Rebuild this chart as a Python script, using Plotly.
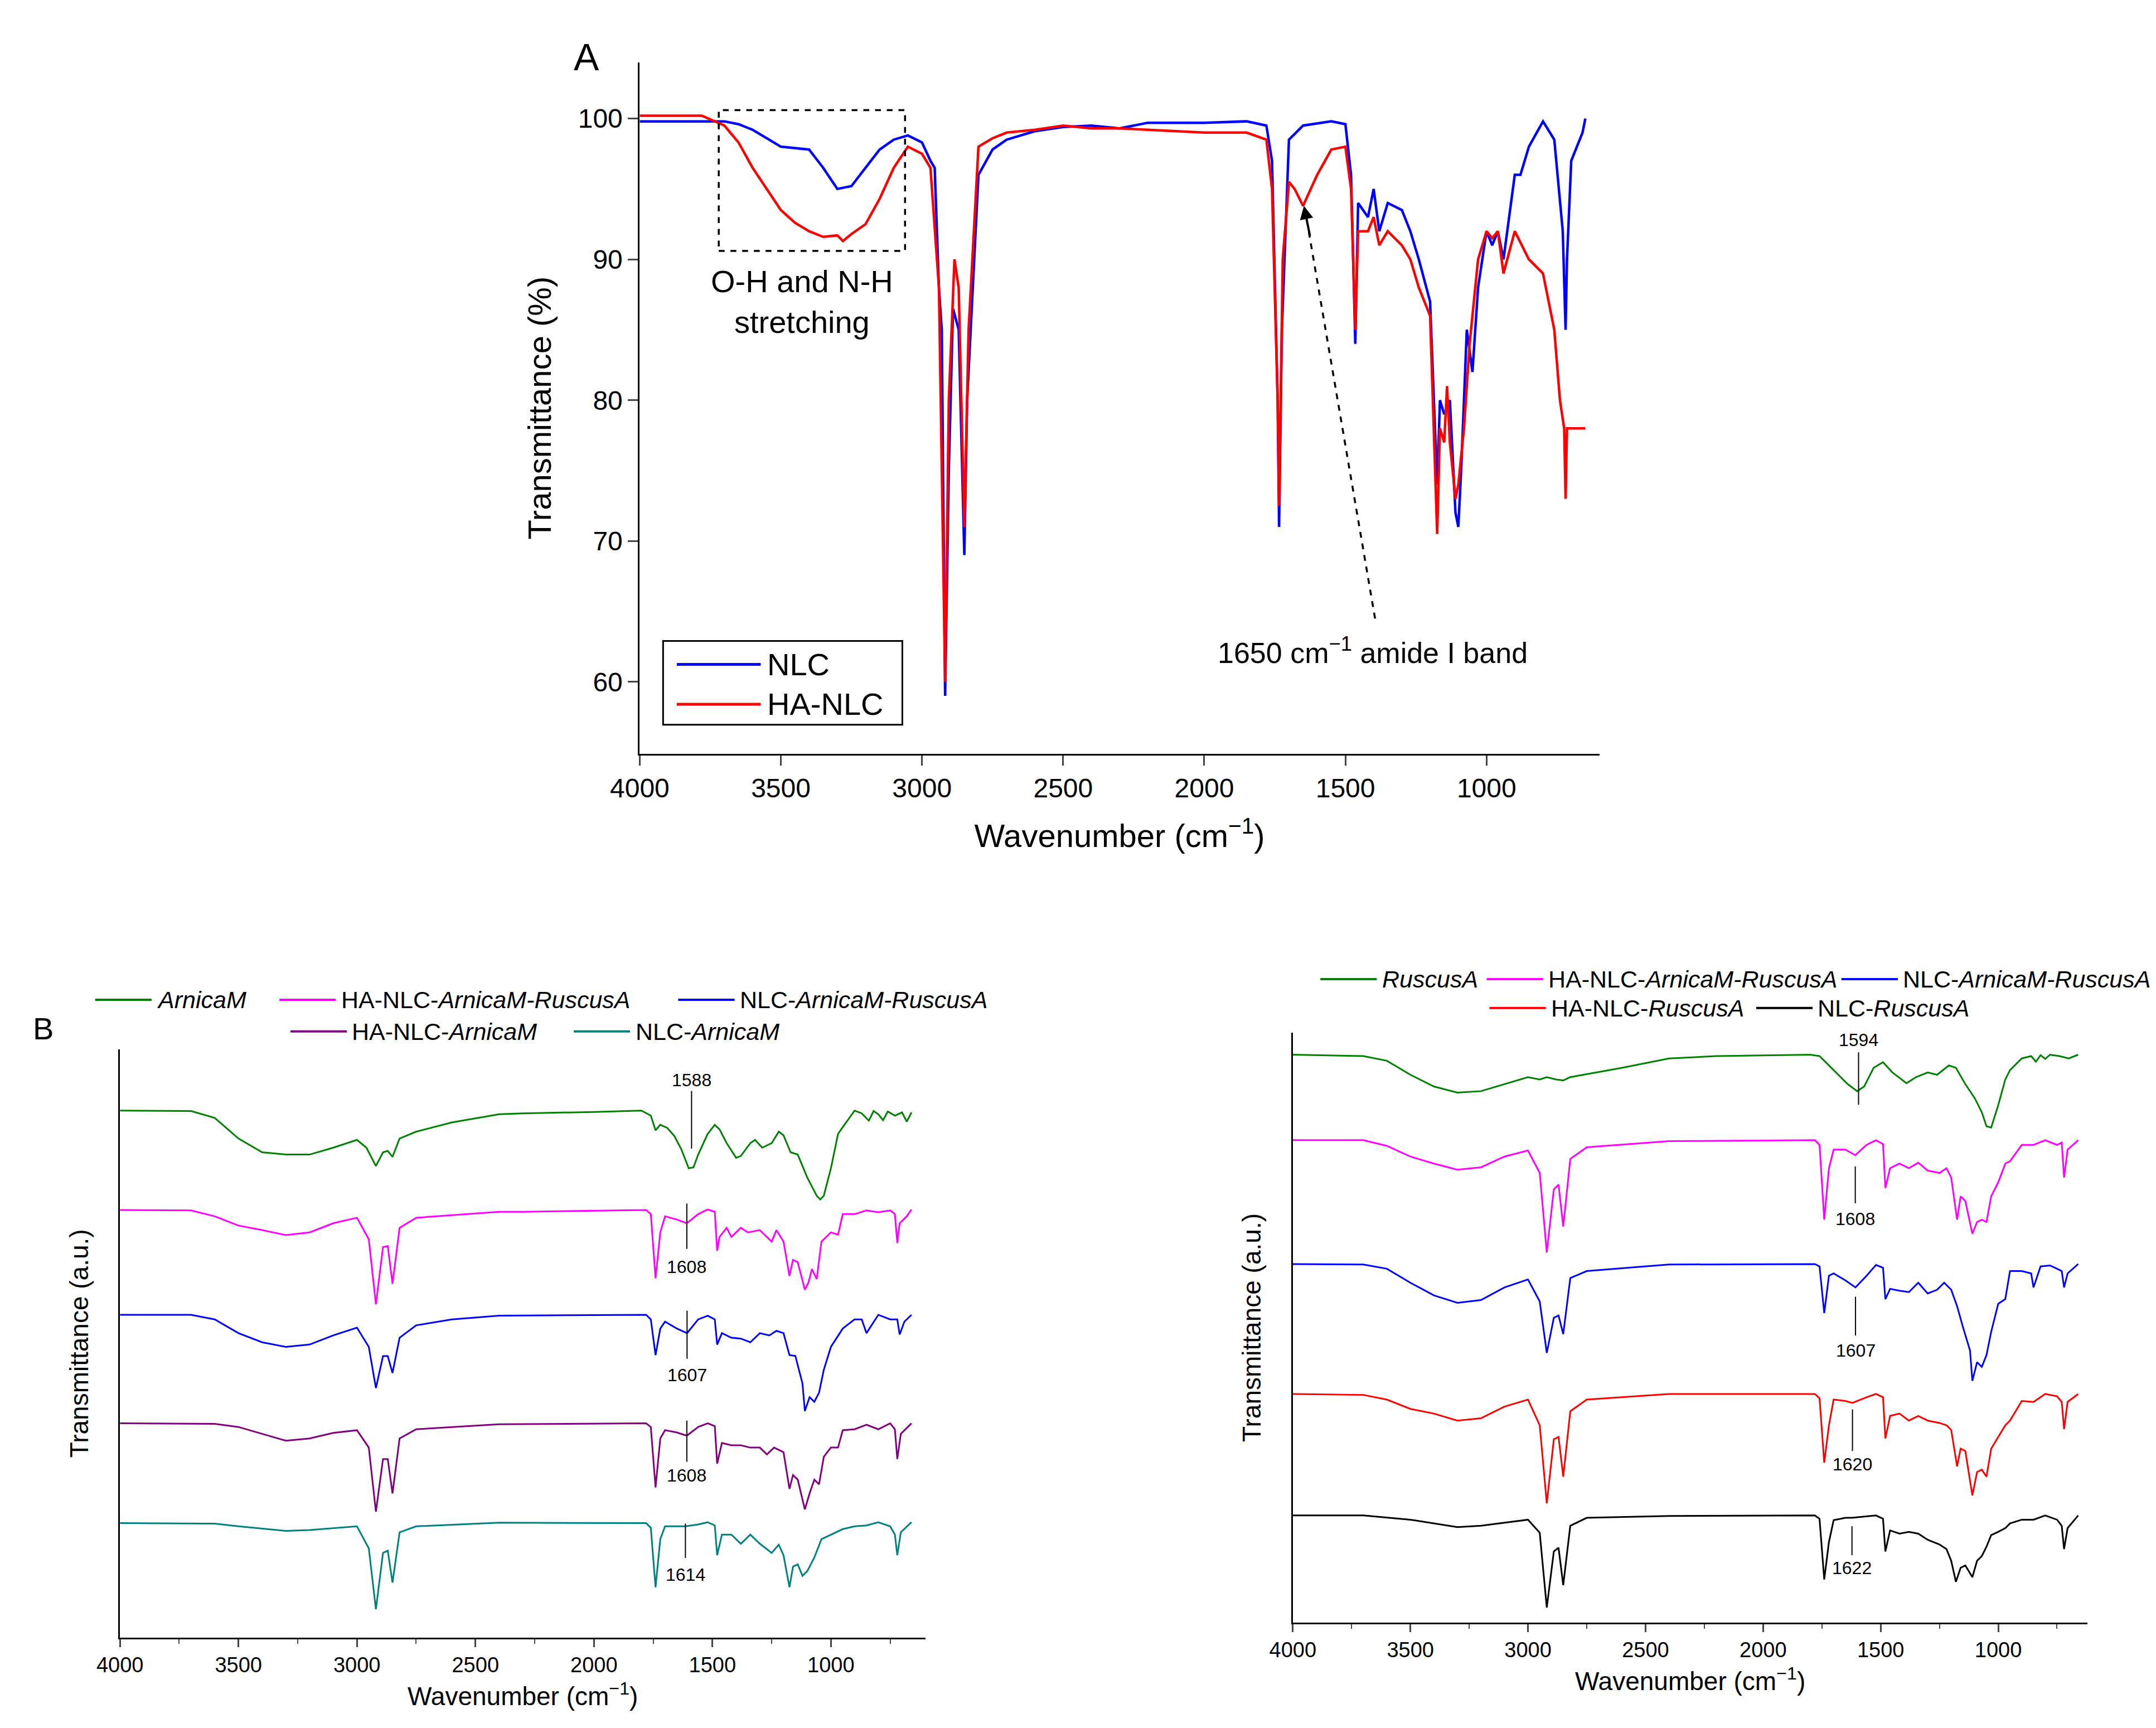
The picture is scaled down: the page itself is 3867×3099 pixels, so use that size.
import plotly.graph_objects as go

# ---------------- Panel A data (transmittance %) ----------------
nlc_wn = [4000,3700,3650,3600,3550,3500,3400,3350,3300,3250,3200,3150,3100,3050,3000,2970,2955,2940,2930,2918,2905,2890,2870,2850,2840,2800,2750,2700,2600,2500,2400,2300,2200,2000,1850,1780,1760,1740,1735,1725,1700,1650,1550,1500,1480,1465,1455,1420,1400,1380,1350,1300,1270,1240,1200,1175,1165,1150,1130,1110,1100,1090,1070,1050,1030,1000,980,960,940,900,880,850,800,760,730,720,715,700,660,650]
nlc_t = [99.8,99.8,99.6,99.2,98.6,98.0,97.8,96.5,95.0,95.2,96.5,97.8,98.5,98.8,98.3,97.0,96.5,88,85,59,75,86.5,85,69,80,96,97.8,98.5,99.1,99.4,99.5,99.3,99.7,99.7,99.8,99.5,97,80,71,85,98.5,99.5,99.8,99.6,96,84,94,93,95,92,94,93.5,92,90,87,74,80,79,80,72,71,75,85,82,88,92,91,92,90,96,96,98,99.8,98.5,92,85,90,97,99,100]
ha_wn = [4000,3780,3700,3650,3600,3550,3500,3450,3400,3350,3300,3280,3250,3200,3150,3100,3050,3000,2970,2940,2918,2905,2885,2870,2850,2835,2800,2750,2700,2600,2500,2400,2300,2200,2000,1850,1780,1760,1740,1735,1722,1700,1680,1650,1600,1550,1500,1480,1465,1455,1420,1400,1380,1350,1300,1270,1240,1200,1175,1165,1150,1140,1130,1110,1100,1080,1060,1050,1030,1000,980,960,940,900,850,800,760,740,725,720,715,700,650]
ha_t = [100.2,100.2,99.5,98.3,96.5,95.0,93.5,92.6,92,91.6,91.7,91.3,91.8,92.5,94.3,96.5,98,97.5,96.5,88,60,80,90,88,71,85,98,98.6,99,99.2,99.5,99.3,99.3,99.2,99,99,98.5,95,80,72.5,90,95.5,95,93.8,96,97.8,98,95,85,92,92,93,91,92,91,90,88,86,70.5,78,77,81,77,73,74,78,84,86,90,92,91.5,92,89,92,90,89,85,80,78,73,78,78,78]

# ---------------- Panel B (left) data, a.u. ----------------
arn_wn = [4000,3700,3600,3500,3400,3300,3200,3100,3000,2960,2920,2890,2870,2850,2820,2750,2600,2400,2300,2000,1800,1760,1740,1720,1690,1660,1630,1600,1580,1560,1520,1490,1470,1440,1400,1380,1340,1320,1290,1250,1220,1200,1170,1140,1100,1060,1045,1030,1000,970,950,900,870,840,820,800,780,760,730,700,680,660]
arn_raw = [314,315,330,375,405,410,410,395,378,395,435,405,402,415,375,360,340,322,320,317,314,325,357,345,352,370,400,440,438,410,365,345,355,385,417,413,385,378,395,385,360,368,405,410,460,500,508,500,440,365,350,314,320,336,315,322,335,316,325,318,338,318]
hamr_wn = [4000,3700,3600,3500,3400,3300,3200,3100,3000,2950,2920,2890,2870,2850,2820,2750,2400,2300,1780,1760,1740,1720,1700,1650,1608,1560,1520,1490,1480,1470,1440,1420,1380,1350,1300,1270,1250,1230,1200,1175,1160,1140,1110,1095,1080,1060,1040,1000,970,950,900,850,800,750,730,720,710,680,660]
hamr_raw = [531,532,545,565,575,586,580,560,548,595,737,612,610,692,570,548,535,535,531,540,680,580,545,552,560,540,530,535,620,590,570,590,570,580,575,590,600,575,600,675,640,645,705,690,660,682,600,580,585,540,540,532,536,532,540,603,560,545,530]
nmr_wn = [4000,3700,3600,3500,3400,3300,3200,3100,3000,2950,2920,2890,2870,2850,2820,2750,2600,2400,1780,1760,1740,1720,1700,1650,1607,1560,1520,1490,1480,1460,1420,1380,1340,1300,1260,1230,1200,1175,1150,1120,1110,1090,1070,1050,1030,1000,950,900,870,850,800,750,720,710,690,660]
nmr_raw = [760,760,770,800,820,830,825,805,788,830,920,850,850,887,810,783,770,762,760,770,848,790,775,790,800,770,762,770,825,800,810,812,820,800,805,795,800,848,850,910,970,940,950,930,880,830,790,770,770,800,760,770,770,803,775,760]
ham_wn = [4000,3600,3500,3400,3300,3200,3100,3000,2950,2920,2890,2870,2850,2820,2750,2400,1780,1760,1740,1720,1700,1650,1608,1560,1520,1490,1480,1460,1420,1380,1340,1300,1270,1240,1200,1175,1160,1140,1110,1090,1070,1050,1030,1000,970,950,900,850,800,750,730,720,705,660]
ham_raw = [997,998,1005,1020,1035,1030,1018,1012,1050,1190,1075,1075,1150,1030,1010,999,997,1005,1137,1030,1012,1017,1024,1005,997,1003,1085,1040,1045,1045,1050,1050,1065,1050,1060,1140,1110,1120,1185,1150,1120,1130,1070,1050,1050,1012,1010,1000,1010,997,1010,1075,1020,997]
nam_wn = [4000,3600,3500,3300,3200,3000,2950,2920,2890,2870,2850,2820,2750,2400,1780,1760,1740,1720,1700,1650,1614,1560,1520,1490,1480,1460,1420,1380,1340,1300,1250,1220,1200,1175,1160,1140,1120,1100,1070,1040,1000,950,900,850,800,750,730,720,705,660]
nam_raw = [1215,1216,1222,1232,1230,1222,1270,1403,1280,1275,1345,1235,1222,1214,1215,1225,1355,1250,1222,1222,1222,1218,1213,1220,1285,1240,1240,1260,1240,1260,1280,1262,1285,1355,1310,1305,1330,1320,1290,1250,1240,1228,1222,1220,1213,1222,1240,1285,1235,1213]

# ---------------- Panel B (right) data, a.u. ----------------
rus_wn = [4000,3700,3600,3500,3400,3300,3200,3100,3000,2950,2920,2880,2850,2820,2600,2400,2200,1800,1760,1700,1640,1600,1570,1530,1490,1450,1390,1350,1300,1260,1210,1180,1140,1100,1070,1050,1030,1000,970,950,900,860,840,820,800,780,740,700,660]
rus_raw = [237,240,250,280,305,318,315,300,285,290,285,290,292,285,265,245,240,237,240,270,300,315,305,265,253,275,298,285,275,280,260,265,300,330,360,390,393,345,290,270,245,240,252,238,246,237,240,245,237]
rhamr_wn = [4000,3700,3600,3500,3400,3300,3200,3100,3000,2950,2920,2890,2870,2850,2820,2750,2400,1780,1760,1740,1720,1700,1650,1608,1560,1520,1490,1480,1460,1420,1380,1340,1300,1250,1220,1200,1175,1160,1140,1110,1090,1070,1050,1030,1000,970,950,900,850,800,750,730,720,705,660]
rhamr_raw = [420,420,432,455,470,483,478,455,442,490,660,525,515,605,460,435,422,420,430,590,480,440,440,452,430,420,428,522,480,470,480,468,485,490,480,500,590,540,550,620,595,590,595,540,510,470,465,430,430,420,430,425,500,440,420]
rnmr_wn = [4000,3700,3600,3500,3400,3300,3200,3100,3000,2950,2920,2890,2870,2850,2820,2750,2400,1780,1760,1740,1720,1700,1650,1607,1560,1520,1490,1480,1460,1420,1380,1340,1300,1260,1230,1200,1175,1150,1120,1110,1090,1070,1050,1030,1000,970,950,900,860,850,820,780,750,730,720,705,660]
rnmr_raw = [685,686,695,725,752,768,762,735,718,765,875,800,795,835,715,700,686,685,690,790,710,705,720,735,710,687,693,760,738,742,745,725,748,740,725,740,775,820,870,935,895,905,880,830,770,760,700,700,705,735,690,688,695,700,735,705,685]
rhar_wn = [4000,3700,3600,3500,3400,3300,3200,3100,3000,2950,2920,2890,2870,2850,2820,2750,2400,1780,1760,1740,1720,1700,1650,1620,1560,1520,1490,1480,1460,1420,1380,1340,1300,1250,1220,1200,1175,1160,1140,1110,1090,1070,1050,1030,1000,970,950,900,850,800,750,730,720,705,660]
rhar_raw = [963,965,975,995,1005,1020,1015,990,975,1030,1197,1060,1055,1140,1000,975,963,963,972,1110,1030,975,978,982,970,963,970,1058,1010,1005,1020,1010,1020,1025,1030,1040,1118,1080,1085,1180,1130,1125,1140,1080,1055,1030,1020,978,980,963,968,980,1038,980,963]
rnr_wn = [4000,3700,3500,3300,3200,3000,2950,2920,2890,2870,2850,2820,2750,2400,1780,1760,1740,1720,1700,1650,1622,1560,1520,1490,1480,1460,1420,1380,1340,1300,1250,1220,1200,1180,1160,1140,1110,1090,1070,1050,1030,1000,970,950,900,850,800,750,730,720,705,660]
rnr_raw = [1223,1223,1232,1248,1245,1232,1260,1420,1300,1292,1372,1245,1228,1224,1223,1230,1360,1280,1233,1228,1228,1225,1223,1230,1300,1255,1262,1258,1262,1275,1285,1295,1320,1365,1335,1330,1355,1320,1310,1290,1265,1258,1250,1240,1232,1232,1223,1232,1245,1295,1250,1223]

L0, R0 = 1465, 1452
def au(raw, base):
    return [base - v for v in raw]

W, H = 3867, 3099
FONT = "Liberation Sans, Arial, sans-serif"
fig = go.Figure()

def tr(x, y, color, xa, ya, width):
    fig.add_trace(go.Scatter(x=x, y=y, mode="lines", line=dict(color=color, width=width),
                             xaxis=xa, yaxis=ya, showlegend=False))

tr(nlc_wn, nlc_t, "#0000ff", "x", "y", 4.5)
tr(ha_wn, ha_t, "#ff0000", "x", "y", 4.5)
for wn, raw, c in [(arn_wn, arn_raw, "#008000"), (hamr_wn, hamr_raw, "#ff00ff"), (nmr_wn, nmr_raw, "#0000ff"),
                   (ham_wn, ham_raw, "#800080"), (nam_wn, nam_raw, "#008080")]:
    tr(wn, au(raw, L0), c, "x2", "y2", 3)
for wn, raw, c in [(rus_wn, rus_raw, "#008000"), (rhamr_wn, rhamr_raw, "#ff00ff"), (rnmr_wn, rnmr_raw, "#0000ff"),
                   (rhar_wn, rhar_raw, "#ff0000"), (rnr_wn, rnr_raw, "#000000")]:
    tr(wn, au(raw, R0), c, "x3", "y3", 3)

def px(x): return x / 1568
def py(y): return 1 - y / 1257

axA = dict(showline=True, linecolor="black", linewidth=3, ticks="outside", ticklen=18, tickwidth=3,
           showgrid=False, zeroline=False, automargin=False, tickfont=dict(size=48, family=FONT, color="black"))
fig.update_layout(
    width=W, height=H, margin=dict(l=0, r=0, t=0, b=0), paper_bgcolor="white", plot_bgcolor="white",
    font=dict(family=FONT, color="black"), showlegend=False,
    xaxis=dict(axA, domain=[px(462), px(1160)], range=[4000, 600], tickvals=[4000,3500,3000,2500,2000,1500,1000],
               title=dict(text="Wavenumber (cm<sup>−1</sup>)", font=dict(size=58), standoff=40), anchor="y"),
    yaxis=dict(axA, domain=[py(545), py(42)], range=[54.9, 104], tickvals=[60,70,80,90,100],
               title=dict(text="Transmittance (%)", font=dict(size=58), standoff=30), anchor="x"),
)
axB = dict(showline=True, linecolor="black", linewidth=3, ticks="outside", ticklen=14, tickwidth=3,
           showgrid=False, zeroline=False, automargin=False, tickfont=dict(size=38, family=FONT, color="black"),
           minor=dict(ticks="outside", ticklen=8, tickwidth=2, dtick=250))
for i, (x0, x1, xr, yb, yt, top) in enumerate([(84, 670, 600, 1188, 760, 1285), (937, 1515, 620, 1177, 748, 1262)]):
    n = str(i + 2)
    fig.update_layout(**{
        "xaxis" + n: dict(axB, domain=[px(x0), px(x1)], range=[4000, xr], tickvals=[4000,3500,3000,2500,2000,1500,1000],
                          anchor="y" + n, title=dict(text="Wavenumber (cm<sup>−1</sup>)", font=dict(size=46), standoff=20)),
        "yaxis" + n: dict(showline=True, linecolor="black", linewidth=3, showgrid=False, zeroline=False, automargin=False,
                          showticklabels=False, ticks="", domain=[py(yb), py(yt)], range=[0, top], anchor="x" + n,
                          title=dict(text="Transmittance (a.u.)", font=dict(size=46), standoff=40)),
    })

fig.add_shape(type="rect", xref="x", yref="y", x0=3720, x1=3060, y0=90.6, y1=100.6,
              line=dict(color="black", width=3.5, dash="dash"))
fig.add_shape(type="line", xref="x", yref="y", x0=1395, y0=64.5, x1=1630, y1=92.0,
              line=dict(color="black", width=3.5, dash="dash"))
fig.add_annotation(xref="x", yref="y", x=1647, y=93.8, ax=1625, ay=91.6, axref="x", ayref="y",
                   text="", showarrow=True, arrowhead=2, arrowsize=1.2, arrowwidth=4, arrowcolor="black")
fig.add_annotation(xref="x", yref="y", x=3425, y=87.0, text="O-H and N-H<br>stretching", showarrow=False,
                   font=dict(size=56, family=FONT))
fig.add_annotation(xref="x", yref="y", x=1404, y=62.2, text="1650 cm<sup>−1</sup> amide I band", showarrow=False,
                   font=dict(size=52, family=FONT))
fig.add_annotation(xref="paper", yref="paper", x=px(413), y=py(22), text="A", showarrow=False,
                   font=dict(size=68, family=FONT))
fig.add_annotation(xref="paper", yref="paper", x=px(20), y=py(745), text="B", showarrow=False,
                   font=dict(size=56, family=FONT))

fig.add_shape(type="rect", xref="paper", yref="paper", x0=px(479), x1=px(653), y0=py(524), y1=py(463),
              line=dict(color="black", width=3), fillcolor="white")
for y, c, t in [(480, "#0000ff", "NLC"), (509, "#ff0000", "HA-NLC")]:
    fig.add_shape(type="line", xref="paper", yref="paper", x0=px(489), x1=px(550), y0=py(y), y1=py(y),
                  line=dict(color=c, width=5))
    fig.add_annotation(xref="paper", yref="paper", x=px(554), y=py(y), xanchor="left", text=t,
                       showarrow=False, font=dict(size=56, family=FONT))

legs = [
    (66, 724, "#008000", "<i>ArnicaM</i>"), (200, 724, "#ff00ff", "HA-NLC-<i>ArnicaM-RuscusA</i>"),
    (490, 724, "#0000ff", "NLC-<i>ArnicaM-RuscusA</i>"), (208, 747, "#800080", "HA-NLC-<i>ArnicaM</i>"),
    (414, 747, "#008080", "NLC-<i>ArnicaM</i>"),
    (957, 709, "#008000", "<i>RuscusA</i>"), (1078, 709, "#ff00ff", "HA-NLC-<i>ArnicaM-RuscusA</i>"),
    (1336, 709, "#0000ff", "NLC-<i>ArnicaM-RuscusA</i>"), (1080, 730, "#ff0000", "HA-NLC-<i>RuscusA</i>"),
    (1274, 730, "#000000", "NLC-<i>RuscusA</i>"),
]
for x, y, c, t in legs:
    fig.add_shape(type="line", xref="paper", yref="paper", x0=px(x), x1=px(x + 41), y0=py(y), y1=py(y),
                  line=dict(color=c, width=4))
    fig.add_annotation(xref="paper", yref="paper", x=px(x + 44), y=py(y), xanchor="left", text=t,
                       showarrow=False, font=dict(size=43, family=FONT))

peaks = [("x2", "y2", 1588, 1194, 1068, 1218), ("x2", "y2", 1608, 948, 849, 810),
         ("x2", "y2", 1607, 714, 609, 573), ("x2", "y2", 1608, 474, 384, 354),
         ("x2", "y2", 1614, 249, 174, 138),
         ("x3", "y3", 1594, 1220, 1108, 1247), ("x3", "y3", 1608, 976, 897, 864),
         ("x3", "y3", 1607, 697, 614, 582), ("x3", "y3", 1620, 456, 367, 338),
         ("x3", "y3", 1622, 206, 144, 117)]
for xa, ya, wn, y0, y1, yt in peaks:
    fig.add_shape(type="line", xref=xa, yref=ya, x0=wn, x1=wn, y0=y0, y1=y1, line=dict(color="black", width=2))
    fig.add_annotation(xref=xa, yref=ya, x=wn, y=yt, text=str(wn), showarrow=False, font=dict(size=32, family=FONT))

fig.write_html("out.html")
